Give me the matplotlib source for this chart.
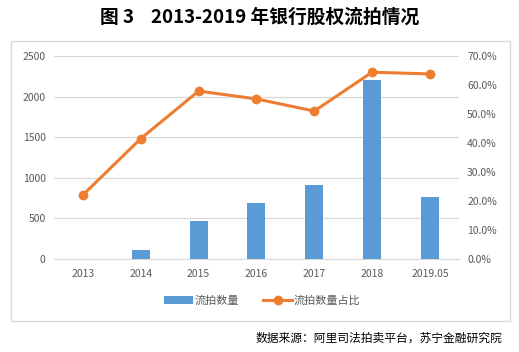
import matplotlib.pyplot as plt
from matplotlib.patches import Rectangle
from matplotlib.ticker import FuncFormatter

plt.rcParams['font.family'] = ['Noto Sans CJK SC', 'DejaVu Sans']

years = ['2013', '2014', '2015', '2016', '2017', '2018', '2019.05']
counts = [0, 110, 470, 690, 910, 2200, 765]
ratio = [22.1, 41.5, 57.9, 55.2, 51.0, 64.4, 63.8]

bar_c = '#5B9BD5'
line_c = '#ED7D31'
grey = '#595959'

fig = plt.figure(figsize=(5.19, 3.52), dpi=100)
ax = fig.add_axes([0.104, 0.264, 0.78, 0.577])
ax2 = ax.twinx()

x = range(len(years))
ax.bar(x, counts, width=0.31, color=bar_c, zorder=2, label='流拍数量')
ax2.plot(x, ratio, color=line_c, lw=2.2, marker='o', ms=6, label='流拍数量占比')

ax.set_xlim(-0.5, len(years) - 0.5)
ax.set_ylim(0, 2500)
ax.set_yticks(range(0, 2501, 500))
ax2.set_ylim(0, 70)
ax2.set_yticks(range(0, 71, 10))
ax2.yaxis.set_major_formatter(FuncFormatter(lambda v, p: f'{v:.1f}%'))
ax.set_xticks(list(x))
ax.set_xticklabels(years)

ax.grid(axis='y', color='#D9D9D9', lw=0.9, zorder=0)
for a in (ax, ax2):
    for s in a.spines.values():
        s.set_visible(False)
    a.tick_params(length=0, labelsize=7.5, labelcolor=grey, pad=6)
ax.spines['bottom'].set_visible(True)
ax.spines['bottom'].set_color('#D9D9D9')
ax.spines['bottom'].set_zorder(1)
ax.tick_params(axis='x', pad=7)

h1, l1 = ax.get_legend_handles_labels()
h2, l2 = ax2.get_legend_handles_labels()
fig.legend(h1 + h2, l1 + l2, loc='center', bbox_to_anchor=(0.505, 0.145), ncol=2,
           frameon=False, fontsize=8, labelcolor=grey, handlelength=2.6,
           handletextpad=0.1, columnspacing=2.2)

fig.patches.append(Rectangle((11 / 519, 1 - 321 / 352), 499 / 519, 280 / 352,
                             transform=fig.transFigure, fill=False,
                             edgecolor='#D9D9D9', lw=1))

fig.text(0.5, 1 - 17 / 352, '图 3    2013-2019 年银行股权流拍情况', ha='center', va='center',
         fontsize=13.5, fontweight='bold', color='black')
fig.text(0.967, 1 - 338 / 352, '数据来源：阿里司法拍卖平台，苏宁金融研究院', ha='right', va='center',
         fontsize=8.5, style='italic', color='black')

fig.savefig('out.png', dpi=100)
